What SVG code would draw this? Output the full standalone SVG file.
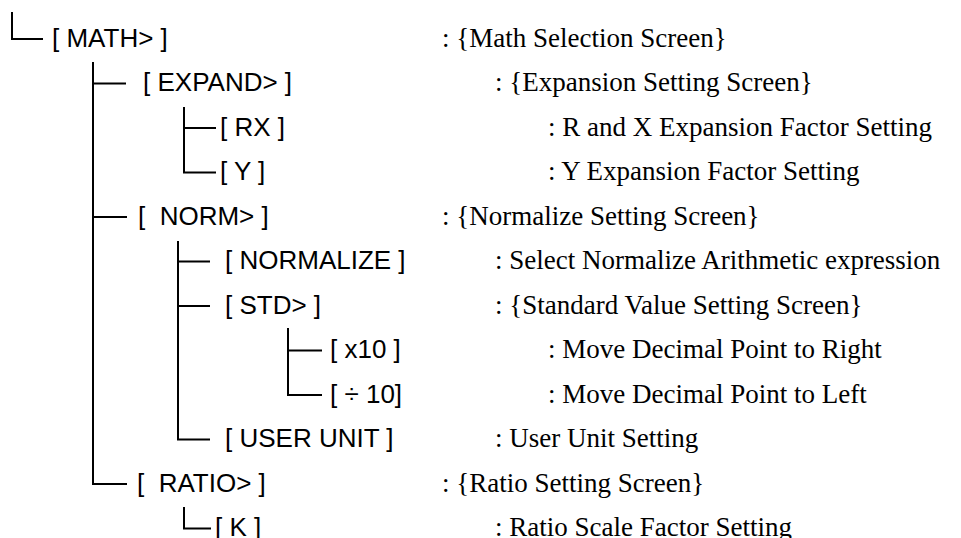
<svg xmlns="http://www.w3.org/2000/svg" width="961" height="538" viewBox="0 0 961 538">
<style>
.k{font-family:"Liberation Sans",Arial,sans-serif;font-size:26px;fill:#000;white-space:pre}
.d{font-family:"Liberation Serif","Times New Roman",serif;font-size:27px;fill:#000;white-space:pre}
.c{fill:none;stroke:#000;stroke-width:2}
</style>
<rect width="961" height="538" fill="#fff"/>
<g id="connectors">
<path class="c" d="M12,12V39H43"/>
<path class="c" d="M93,62V484H127M93,83.5H126M93,217H127"/>
<path class="c" d="M184,107V172.5H216M184,128H216"/>
<path class="c" d="M178,241V439.5H210M178,261.5H210M178,306H210"/>
<path class="c" d="M288,328V395H322M288,350.5H322"/>
<path class="c" d="M184,507V528.5H211"/>
</g>
<g id="math"><text class="k" x="52" y="46.5">[ MATH&gt; ]</text><text class="d" x="442" y="46.5">: {Math Selection Screen}</text></g>
<g id="expand"><text class="k" x="143" y="91">[ EXPAND&gt; ]</text><text class="d" x="495" y="91">: {Expansion Setting Screen}</text></g>
<g id="rx"><text class="k" x="220" y="135.5">[ RX ]</text><text class="d" x="548" y="135.5">: R and X Expansion Factor Setting</text></g>
<g id="y"><text class="k" x="220" y="180">[ Y ]</text><text class="d" x="548" y="180">: Y Expansion Factor Setting</text></g>
<g id="norm"><text class="k" x="138" y="224.5">[  NORM&gt; ]</text><text class="d" x="442" y="224.5">: {Normalize Setting Screen}</text></g>
<g id="normalize"><text class="k" x="225" y="269">[ NORMALIZE ]</text><text class="d" x="495" y="269">: Select Normalize Arithmetic expression</text></g>
<g id="std"><text class="k" x="225" y="313.5">[ STD&gt; ]</text><text class="d" x="495" y="313.5">: {Standard Value Setting Screen}</text></g>
<g id="x10"><text class="k" x="330" y="358">[ x10 ]</text><text class="d" x="548" y="358">: Move Decimal Point to Right</text></g>
<g id="div10"><text class="k" x="330" y="402.5">[ ÷ 10]</text><text class="d" x="548" y="402.5">: Move Decimal Point to Left</text></g>
<g id="userunit"><text class="k" x="225" y="447">[ USER UNIT ]</text><text class="d" x="495" y="447">: User Unit Setting</text></g>
<g id="ratio"><text class="k" x="137" y="491.5">[  RATIO&gt; ]</text><text class="d" x="442" y="491.5">: {Ratio Setting Screen}</text></g>
<g id="k"><text class="k" x="215" y="536">[ K ]</text><text class="d" x="495" y="536">: Ratio Scale Factor Setting</text></g>
</svg>
